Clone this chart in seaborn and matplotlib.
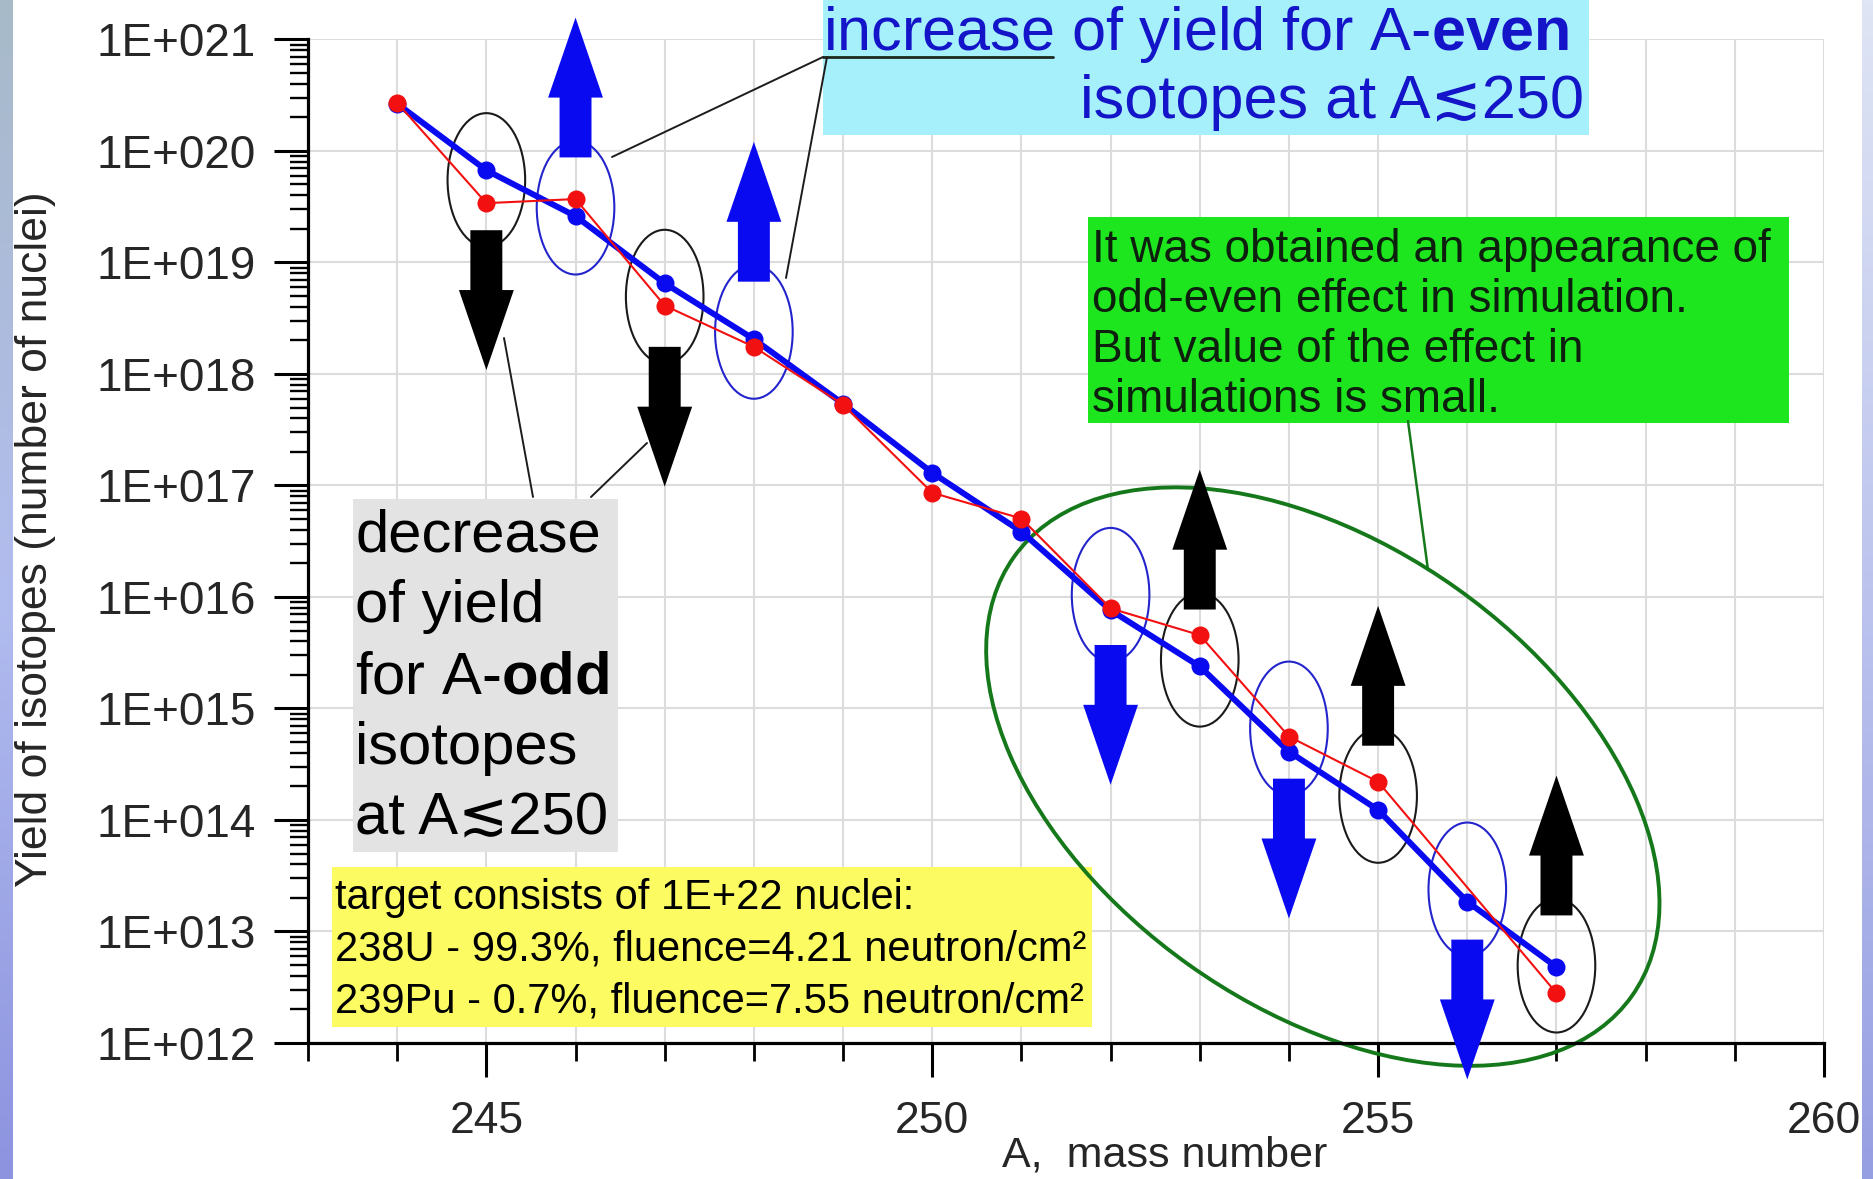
import numpy as np
import pandas as pd
import matplotlib
matplotlib.use("Agg")
import matplotlib.pyplot as plt
import seaborn as sns
from matplotlib.patches import Ellipse, Rectangle, ArrowStyle
from matplotlib.lines import Line2D
from matplotlib.transforms import ScaledTranslation
from matplotlib.ticker import MultipleLocator, LogLocator, NullFormatter
from matplotlib.colors import LinearSegmentedColormap

# ---------------------------------------------------------------- data
# simulated yield (thick blue curve)
mass_blue = [244, 245, 246, 247, 248, 249, 250, 251, 252, 253, 254, 255, 256, 257]
yield_blue = [2.65e20, 6.7e19, 2.6e19, 6.5e18, 2.05e18, 5.4e17, 1.3e17, 3.85e16,
              7.6e15, 2.38e15, 4.1e14, 1.23e14, 1.85e13, 4.8e12]

# second yield set (thin red curve), no point at A=256
mass_red = [244, 245, 246, 247, 248, 249, 250, 251, 252, 253, 254, 255, 257]
yield_red = [2.7e20, 3.4e19, 3.7e19, 4.1e18, 1.75e18, 5.3e17, 8.6e16, 5.05e16,
             7.9e15, 4.55e15, 5.6e14, 2.2e14, 2.8e12]

x_ticks = [245, 250, 255, 260]
y_ticks = [1e12, 1e13, 1e14, 1e15, 1e16, 1e17, 1e18, 1e19, 1e20, 1e21]
y_tick_labels = ["1E+012", "1E+013", "1E+014", "1E+015", "1E+016",
                 "1E+017", "1E+018", "1E+019", "1E+020", "1E+021"]

# isotopes singled out with an ellipse and an arrow
marked_mass = [245, 246, 247, 248, 252, 253, 254, 255, 256, 257]
# vertical shift of each ellipse from the mean of the curves (decades)
ellipse_shift = [0.06, 0.0, -0.02, 0.10, 0.13, -0.08, 0.14, 0.0, 0.11, 0.13]

# ---------------------------------------------------------------- style
sns.set_theme(style="white")
plt.rcParams.update({
    "font.family": ["Liberation Sans", "DejaVu Sans"],
    "mathtext.fontset": "custom",
    "mathtext.rm": "Liberation Sans",
    "mathtext.bf": "Liberation Sans:bold",
    "mathtext.it": "Liberation Sans:italic",
    "axes.unicode_minus": False,
})

BLUE = "#0a0af0"
RED = "#f21010"
EBLUE = "#2424cc"
DGREEN = "#15781a"

W, H = 1873, 1179
fig = plt.figure(figsize=(W / 100, H / 100), dpi=100, facecolor="white")


def P(x, y):
    """pixel position (from top-left) -> figure fraction"""
    return x / W, 1 - y / H


ax = fig.add_axes([308 / W, 1 - 1043 / H, (1824 - 308) / W, (1043 - 39.4) / H])
ax.set_facecolor("white")
ax.set_yscale("log")

# ---------------------------------------------------------------- curves
df_blue = pd.DataFrame({"A": mass_blue, "Y": yield_blue})
df_red = pd.DataFrame({"A": mass_red, "Y": yield_red})
sns.lineplot(data=df_blue, x="A", y="Y", ax=ax, color=BLUE, linewidth=4.3,
             marker="o", markersize=13, markeredgewidth=0, zorder=3)
sns.lineplot(data=df_red, x="A", y="Y", ax=ax, color=RED, linewidth=1.5,
             marker="o", markersize=13, markeredgewidth=0, zorder=4)

ax.set_xlim(243, 260)
ax.set_ylim(1e12, 1e21)

# ---------------------------------------------------------------- axes
for s in ["top", "right"]:
    ax.spines[s].set_visible(False)
for s in ["left", "bottom"]:
    ax.spines[s].set_color("black")
    ax.spines[s].set_linewidth(2.3)

ax.set_xticks(x_ticks)
ax.xaxis.set_minor_locator(MultipleLocator(1))
ax.set_yticks(y_ticks, labels=y_tick_labels)
ax.yaxis.set_minor_locator(LogLocator(base=10, subs=np.arange(2, 10), numticks=100))
ax.yaxis.set_minor_formatter(NullFormatter())

ax.tick_params(axis="both", which="both", direction="out", color="black",
               bottom=True, left=True, top=False, right=False)
ax.tick_params(axis="x", which="major", length=24.5, width=2.2, labelsize=32, pad=17)
ax.tick_params(axis="x", which="minor", length=13, width=2.0)
ax.tick_params(axis="y", which="major", length=24.5, width=2.2, labelsize=33, pad=13)
ax.tick_params(axis="y", which="minor", length=13, width=1.7)

ax.set_axisbelow(True)
ax.xaxis.grid(True, which="both", color="#dcdcdc", linewidth=1.5)
ax.yaxis.grid(True, which="major", color="#dcdcdc", linewidth=1.5)
ax.yaxis.grid(False, which="minor")

ax.set_xlabel("A,  mass number", fontsize=31, va="baseline", ha="center")
ax.xaxis.set_label_coords(*P(1165, 1167), transform=fig.transFigure)
ax.set_ylabel("Yield of isotopes (number of nuclei)", fontsize=32, va="center", ha="center")
ax.yaxis.set_label_coords(*P(36, 539), transform=fig.transFigure)


# ---------------------------------------------------------------- helpers
def ellipse_at(x, y, w_in, h_in, color, lw, angle=0.0, z=2):
    tr = fig.dpi_scale_trans + ScaledTranslation(x, y, ax.transData)
    e = Ellipse((0, 0), w_in, h_in, angle=angle, transform=tr, fill=False,
                edgecolor=color, linewidth=lw, zorder=z, clip_on=False)
    ax.add_artist(e)


def box(x0, y0, x1, y1, color):
    bx, by = P(x0, y1)
    ax.add_artist(Rectangle((bx, by), (x1 - x0) / W, (y1 - y0) / H,
                            transform=fig.transFigure, facecolor=color,
                            edgecolor="none", zorder=1, clip_on=False))


def leader(x0, y0, x1, y1, color, lw):
    (a, b), (c, d) = P(x0, y0), P(x1, y1)
    ax.add_artist(Line2D([a, c], [b, d], transform=fig.transFigure, color=color,
                         linewidth=lw, zorder=1.5, clip_on=False))


def label(x, y, s, size, color="black", ha="left"):
    fig.text(*P(x, y), s, fontsize=size, color=color, ha=ha, va="baseline")


# ---------------------------------------------------------------- ellipses & arrows
log_blue = dict(zip(mass_blue, np.log10(yield_blue)))
log_red = dict(zip(mass_red, np.log10(yield_red)))
arrow_style = ArrowStyle.Simple(head_length=57.6, head_width=39.5, tail_width=23.0)

for A, shift in zip(marked_mass, ellipse_shift):
    vals = [d[A] for d in (log_blue, log_red) if A in d]
    c = np.mean(vals) + shift
    odd = A % 2 == 1
    ellipse_at(A, 10 ** c, 0.776, 1.338, "#1a1a1a" if odd else EBLUE, 1.5)
    up = (A > 250) == odd
    sgn = 1 if up else -1
    tail = c + sgn * 0.45
    tip = tail + sgn * 1.254
    col = "black" if odd else BLUE
    ax.annotate("", xy=(A, 10 ** tip), xytext=(A, 10 ** tail), xycoords="data",
                arrowprops=dict(arrowstyle=arrow_style, mutation_scale=1, fc=col,
                                ec=col, lw=0, shrinkA=0, shrinkB=0, clip_on=False),
                annotation_clip=False, zorder=5)

# large ellipse around the heavy isotopes
ellipse_at(254.38, 10 ** 14.389, 7.58, 4.62, DGREEN, 2.8, angle=-35.4, z=2.5)

# ---------------------------------------------------------------- text boxes
# blue statement
box(823, -5, 1589, 135, "#a5f0fa")
label(823, 50, r"increase of yield for A-$\mathbf{even}$", 44, color="#1414c8")
label(1584, 118, "isotopes at A\u2272250", 44, color="#1414c8", ha="right")
leader(823, 57, 1053, 57, "#1c2a1c", 2.0)
leader(823, 57, 612, 157, "#1c1c1c", 1.4)
leader(827, 57, 786, 278, "#1c1c1c", 1.4)

# grey statement
box(353, 499, 618, 852, "#e3e3e3")
gray_lines = ["decrease", "of yield", r"for A-$\mathbf{odd}$", "isotopes", "at A\u2272250"]
for i, s in enumerate(gray_lines):
    label(355, 552 + 70.5 * i, s, 43)
leader(504, 338, 533, 497, "#1c1c1c", 1.4)
leader(591, 497, 647, 443, "#1c1c1c", 1.4)

# green statement
box(1088, 217, 1789, 423, "#1ee61e")
green_lines = ["It was obtained an appearance of", "odd-even effect in simulation.",
               "But value of the effect in", "simulations is small."]
for i, s in enumerate(green_lines):
    label(1092, 262 + 50 * i, s, 33, color="#0d1f0d")
leader(1408, 421, 1428, 570, DGREEN, 1.8)

# target description
box(332, 867, 1092, 1027, "#fcfc62")
yellow_lines = ["target consists of 1E+22 nuclei:",
                "238U - 99.3%, fluence=4.21 neutron/cm\u00b2",
                "239Pu - 0.7%, fluence=7.55 neutron/cm\u00b2"]
for i, s in enumerate(yellow_lines):
    label(335, 909 + 52 * i, s, 30)


# ---------------------------------------------------------------- side bands
def side_band(x0, w, colors):
    b = fig.add_axes([x0 / W, 0, w / W, 1])
    cmap = LinearSegmentedColormap.from_list("band", colors)
    b.imshow(np.linspace(0, 1, 256)[:, None], aspect="auto", cmap=cmap,
             extent=[0, 1, 0, 1])
    b.set_axis_off()


side_band(0, 13, ["#a7bac8", "#b2bdef", "#8d93df"])
side_band(1862, 11, ["#dfe5f4", "#bcc4ee", "#979fe3"])

fig.savefig("out.png", dpi=100, facecolor="white")
